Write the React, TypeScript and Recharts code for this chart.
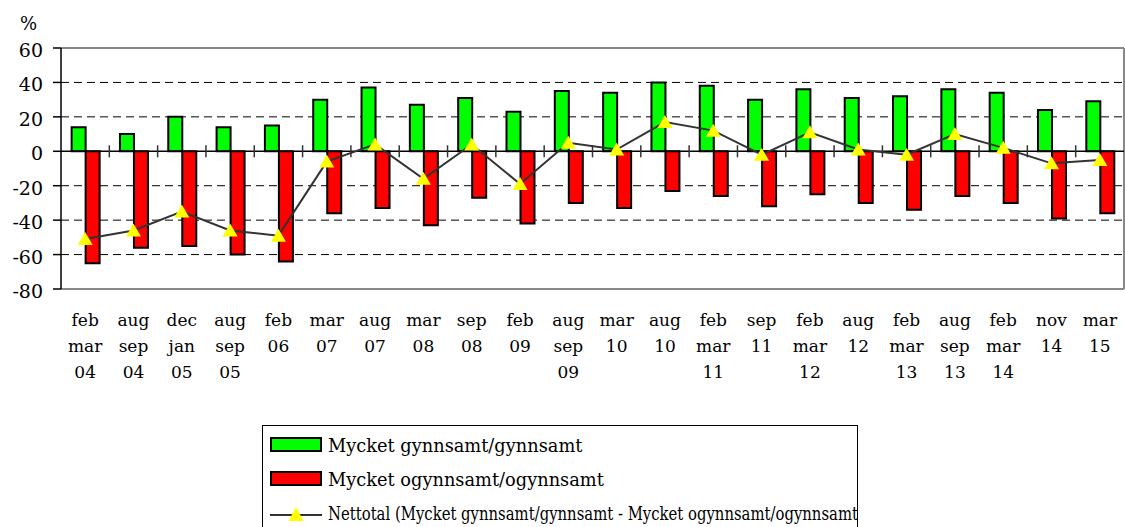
import {
  Bar,
  BarChart,
  CartesianGrid,
  Line,
  ReferenceLine,
  XAxis,
  YAxis,
} from "recharts";

// only serif face available in the sandbox
const FONT = "DejaVu Serif";

const PERIODS = [
  "feb mar 04", "aug sep 04", "dec jan 05", "aug sep 05", "feb 06", "mar 07",
  "aug 07", "mar 08", "sep 08", "feb 09", "aug sep 09", "mar 10", "aug 10",
  "feb mar 11", "sep 11", "feb mar 12", "aug 12", "feb mar 13", "aug sep 13",
  "feb mar 14", "nov 14", "mar 15",
];
const FAVOURABLE = [14, 10, 20, 14, 15, 30, 37, 27, 31, 23, 35, 34, 40, 38, 30, 36, 31, 32, 36, 34, 24, 29];
const UNFAVOURABLE = [-65, -56, -55, -60, -64, -36, -33, -43, -27, -42, -30, -33, -23, -26, -32, -25, -30, -34, -26, -30, -39, -36];
const NET = [-51, -46, -35, -46, -49, -6, 4, -16, 4, -19, 5, 1, 17, 12, -2, 11, 1, -2, 10, 2, -7, -5];

const Y_TICKS = [-80, -60, -40, -20, 0, 20, 40, 60];
const GRID_VALUES = [40, 20, -20, -40, -60];
// category boundaries (numeric helper axis) where the small ticks cross the zero line
const BOUNDARIES = [1, 2, 3, 4, 5, 6, 7, 8, 9, 10, 11, 12, 13, 14, 15, 16, 17, 18, 19, 20, 21];

const SERIES_NAMES = [
  "Mycket gynnsamt/gynnsamt",
  "Mycket ogynnsamt/ogynnsamt",
  "Nettotal (Mycket gynnsamt/gynnsamt - Mycket ogynnsamt/ogynnsamt",
];

const data = PERIODS.map((label, i) => ({
  label,
  idx: i,
  fav: FAVOURABLE[i],
  unfav: UNFAVOURABLE[i],
  net: NET[i],
}));

function CategoryTick({ x, y, payload }: any) {
  const lines = String(payload.value).split(" ");
  return (
    <text x={x} y={y} textAnchor="middle" style={{ fontSize: 17, fontFamily: FONT }} fill="#000">
      {lines.map((l, i) => (
        <tspan key={i} x={x} dy={i === 0 ? 37 : 26}>
          {l}
        </tspan>
      ))}
    </text>
  );
}

function ValueTick({ x, y, payload }: any) {
  return (
    <text x={x} y={y} dy={9} textAnchor="end" style={{ fontSize: 19, fontFamily: FONT }} fill="#000">
      {payload.value}
    </text>
  );
}

function Triangle({ cx, cy }: any) {
  if (cx == null || cy == null) return null;
  return (
    <polygon
      points={`${cx},${cy - 7} ${cx - 7.5},${cy + 6} ${cx + 7.5},${cy + 6}`}
      fill="#ffff00"
    />
  );
}

function Legend() {
  const row = (top: number): React.CSSProperties => ({
    position: "absolute",
    left: 65,
    top,
    fontSize: 17.8,
    lineHeight: 1,
    whiteSpace: "nowrap",
  });
  const swatch = (top: number, color: string): React.CSSProperties => ({
    position: "absolute",
    left: 7,
    top,
    width: 48,
    height: 11,
    background: color,
    border: "2px solid #000",
  });
  return (
    <div
      style={{
        position: "absolute",
        left: 262,
        top: 425,
        width: 594,
        height: 130,
        border: "1px solid #000",
        overflow: "hidden",
        fontFamily: FONT,
        color: "#000",
        background: "#fff",
      }}
    >
      <div style={swatch(11, "#00ff00")} />
      <div style={row(11)}>{SERIES_NAMES[0]}</div>
      <div style={swatch(45, "#ff0000")} />
      <div style={row(45)}>{SERIES_NAMES[1]}</div>
      <svg style={{ position: "absolute", left: 7, top: 80 }} width={52} height={16}>
        <line x1={0} y1={9} x2={52} y2={9} stroke="#333" strokeWidth={2} />
        <polygon points="26,1 18.5,15 33.5,15" fill="#ffff00" />
      </svg>
      {/* the long label is squeezed so it fits inside the box like the original */}
      <div style={{ ...row(79), transform: "scaleX(0.835)", transformOrigin: "0 0" }}>
        {SERIES_NAMES[2]}
      </div>
    </div>
  );
}

export default function App() {
  return (
    <div
      style={{
        position: "absolute",
        left: 0,
        top: 0,
        width: 1125,
        height: 527,
        overflow: "hidden",
        background: "#fff",
        fontFamily: FONT,
      }}
    >
      <div style={{ position: "absolute", left: 20, top: 15, fontSize: 18, lineHeight: 1 }}>%</div>
      <BarChart
        width={1125}
        height={400}
        data={data}
        margin={{ top: 48, right: 1, left: 0, bottom: 0 }}
        barCategoryGap="22%"
        barGap={0}
      >
        <CartesianGrid
          vertical={false}
          horizontalValues={GRID_VALUES}
          stroke="#000"
          strokeDasharray="8 5"
        />
        <XAxis
          dataKey="label"
          interval={0}
          height={111}
          tick={<CategoryTick />}
          tickLine={false}
          tickSize={0}
          tickMargin={0}
          axisLine={{ stroke: "#888", strokeWidth: 2 }}
        />
        <XAxis xAxisId="num" dataKey="idx" type="number" domain={[0, 22]} hide />
        <YAxis
          domain={[-80, 60]}
          ticks={Y_TICKS}
          interval={0}
          width={61}
          tickSize={8}
          tickMargin={10}
          tick={<ValueTick />}
          axisLine={{ stroke: "#000", strokeWidth: 1.5 }}
          tickLine={{ stroke: "#000", strokeWidth: 1.5 }}
        />
        <ReferenceLine y={60} stroke="#888" strokeWidth={2} ifOverflow="visible" />
        <ReferenceLine x={22} xAxisId="num" stroke="#888" strokeWidth={2} ifOverflow="visible" />
        <Bar dataKey="fav" name={SERIES_NAMES[0]} fill="#00ff00" stroke="#000" strokeWidth={2} isAnimationActive={false} />
        <Bar dataKey="unfav" name={SERIES_NAMES[1]} fill="#ff0000" stroke="#000" strokeWidth={2} isAnimationActive={false} />
        <ReferenceLine y={0} stroke="#000" strokeWidth={1.5} />
        {BOUNDARIES.map((b) => (
          <ReferenceLine
            key={b}
            xAxisId="num"
            segment={[{ x: b, y: -3.5 }, { x: b, y: 3.5 }]}
            stroke="#333"
            strokeWidth={1.5}
          />
        ))}
        <Line
          dataKey="net"
          name={SERIES_NAMES[2]}
          type="linear"
          stroke="#333"
          strokeWidth={2}
          dot={<Triangle />}
          activeDot={false}
          isAnimationActive={false}
        />
      </BarChart>
      <Legend />
    </div>
  );
}
